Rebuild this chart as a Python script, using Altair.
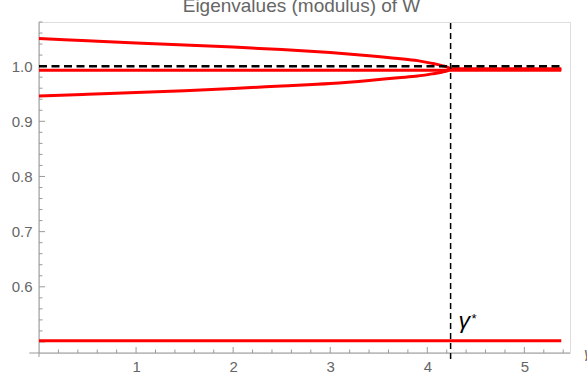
import altair as alt
import pandas as pd

# --- data -------------------------------------------------------------
gamma = [0.0, 0.5, 1.0, 1.5, 2.0, 2.5, 3.0, 3.4, 3.7, 3.9, 4.05, 4.15, 4.21, 4.24, 5.38]
upper = [1.050, 1.046, 1.042, 1.0385, 1.0345, 1.030, 1.0245, 1.019, 1.014, 1.010,
         1.005, 1.001, 0.998, 0.995, 0.995]
lower = [0.946, 0.949, 0.952, 0.9555, 0.9595, 0.964, 0.9685, 0.974, 0.979, 0.982,
         0.986, 0.989, 0.992, 0.995, 0.995]
flat_gamma = [0.0, 5.38]
middle = [0.9926, 0.9926]
bottom = [0.502, 0.502]

gamma_star = 4.24
unit_level = 1.0

title_text = "Eigenvalues (modulus) of W"

x_major = [1, 2, 3, 4, 5]
x_minor = [round(i * 0.2, 1) for i in range(1, 28) if i % 5]
y_major = [0.5, 0.6, 0.7, 0.8, 0.9, 1.0]
y_minor = [round(0.5 + i * 0.02, 2) for i in range(1, 30) if i % 5]
y_labels = [0.6, 0.7, 0.8, 0.9, 1.0]

X_DOMAIN = [0, 5.47]
Y_DOMAIN = [0.48, 1.08]
W, H = 531, 331

RED = "#ff0000"
AXIS = "#9a9a9a"
LABEL = "#666666"
FONT = "Liberation Sans"

rows = []
for g, u, l in zip(gamma, upper, lower):
    rows.append({"g": g, "v": u, "s": "upper"})
    rows.append({"g": g, "v": l, "s": "lower"})
for g, m, b in zip(flat_gamma, middle, bottom):
    rows.append({"g": g, "v": m, "s": "middle"})
    rows.append({"g": g, "v": b, "s": "bottom"})
curves = pd.DataFrame(rows)

xs = alt.Scale(domain=X_DOMAIN, nice=False, zero=False)
ys = alt.Scale(domain=Y_DOMAIN, nice=False, zero=False)

x_axis = alt.Axis(values=x_major, format="d", domain=False, ticks=False, grid=False,
                  labelFontSize=15, labelColor=LABEL, labelFont=FONT, labelPadding=6,
                  title=None)
y_axis = alt.Axis(values=y_labels, format=".1f", domain=False, ticks=False, grid=False,
                  labelFontSize=15, labelColor=LABEL, labelFont=FONT, labelPadding=7,
                  title=None)

base = alt.Chart(curves)

lines = base.mark_line(color=RED, strokeWidth=3, clip=False, interpolate="monotone").encode(
    x=alt.X("g:Q", scale=xs, axis=x_axis),
    y=alt.Y("v:Q", scale=ys, axis=y_axis),
    detail="s:N",
)

# axis lines drawn in data space so they can overhang slightly
x_line = alt.Chart(pd.DataFrame({"a": [-0.1], "b": [X_DOMAIN[1]], "y": [Y_DOMAIN[0]]})).mark_rule(
    color=AXIS, strokeWidth=1).encode(
    x=alt.X("a:Q", scale=xs), x2="b:Q", y=alt.Y("y:Q", scale=ys))
y_line = alt.Chart(pd.DataFrame({"x": [0.0], "a": [0.4727], "b": [Y_DOMAIN[1]]})).mark_rule(
    color=AXIS, strokeWidth=1).encode(
    x=alt.X("x:Q", scale=xs), y=alt.Y("a:Q", scale=ys), y2="b:Q")

# inward tick marks
x_maj_ticks = alt.Chart(pd.DataFrame({"t": x_major})).mark_rule(color=AXIS).encode(
    x=alt.X("t:Q", scale=xs), y=alt.value(H), y2=alt.value(H - 6))
x_min_ticks = alt.Chart(pd.DataFrame({"t": x_minor})).mark_rule(color=AXIS).encode(
    x=alt.X("t:Q", scale=xs), y=alt.value(H), y2=alt.value(H - 3.5))
y_maj_ticks = alt.Chart(pd.DataFrame({"t": y_major})).mark_rule(color=AXIS).encode(
    y=alt.Y("t:Q", scale=ys), x=alt.value(0), x2=alt.value(6))
y_min_ticks = alt.Chart(pd.DataFrame({"t": y_minor})).mark_rule(color=AXIS).encode(
    y=alt.Y("t:Q", scale=ys), x=alt.value(0), x2=alt.value(3.5))

# dashed reference lines: |lambda| = 1 and gamma*
unit_line = alt.Chart(pd.DataFrame({"a": [0.0], "b": [5.38], "y": [unit_level]})).mark_rule(
    color="black", strokeWidth=2.5, strokeDash=[8, 4.5]).encode(
    x=alt.X("a:Q", scale=xs), x2="b:Q", y=alt.Y("y:Q", scale=ys))
star_line = alt.Chart(pd.DataFrame({"x": [gamma_star], "a": [0.469], "b": [1.083]})).mark_rule(
    color="black", strokeWidth=1.5, strokeDash=[6, 4]).encode(
    x=alt.X("x:Q", scale=xs), y=alt.Y("a:Q", scale=ys), y2="b:Q")

# labels
star_df = pd.DataFrame({"x": [gamma_star], "y": [0.526]})
star_gamma = alt.Chart(star_df).mark_text(
    text="γ", font=FONT, fontSize=23, fontStyle="italic", color="black",
    align="left", baseline="alphabetic", dx=8).encode(
    x=alt.X("x:Q", scale=xs), y=alt.Y("y:Q", scale=ys))
star_mark = alt.Chart(star_df).mark_text(
    text="*", font=FONT, fontSize=13, color="black",
    align="left", baseline="alphabetic", dx=21, dy=-5).encode(
    x=alt.X("x:Q", scale=xs), y=alt.Y("y:Q", scale=ys))
axis_gamma = alt.Chart(pd.DataFrame({"x": [X_DOMAIN[1]], "y": [Y_DOMAIN[0]]})).mark_text(
    text="γ", font=FONT, fontSize=15, fontStyle="italic", color=LABEL,
    align="left", baseline="middle", dx=14).encode(
    x=alt.X("x:Q", scale=xs), y=alt.Y("y:Q", scale=ys))

# plot title, set as a text mark just above the frame
title_mark = alt.Chart(pd.DataFrame({"t": [title_text]})).mark_text(
    font=FONT, fontSize=19, color="#666666", align="center", baseline="alphabetic").encode(
    text="t:N", x=alt.value(W / 2 - 3), y=alt.value(-10))

chart = alt.layer(
    x_line, y_line, x_min_ticks, x_maj_ticks, y_min_ticks, y_maj_ticks,
    lines, unit_line, star_line, star_gamma, star_mark, axis_gamma, title_mark,
).properties(
    width=W, height=H,
    autosize=alt.AutoSizeParams(type="none"),
    padding={"left": 39, "top": 22, "right": 17, "bottom": 32},
).configure_view(stroke=None).configure(background="white")

chart.save("out.html", embed_options={"renderer": "svg", "actions": False})
